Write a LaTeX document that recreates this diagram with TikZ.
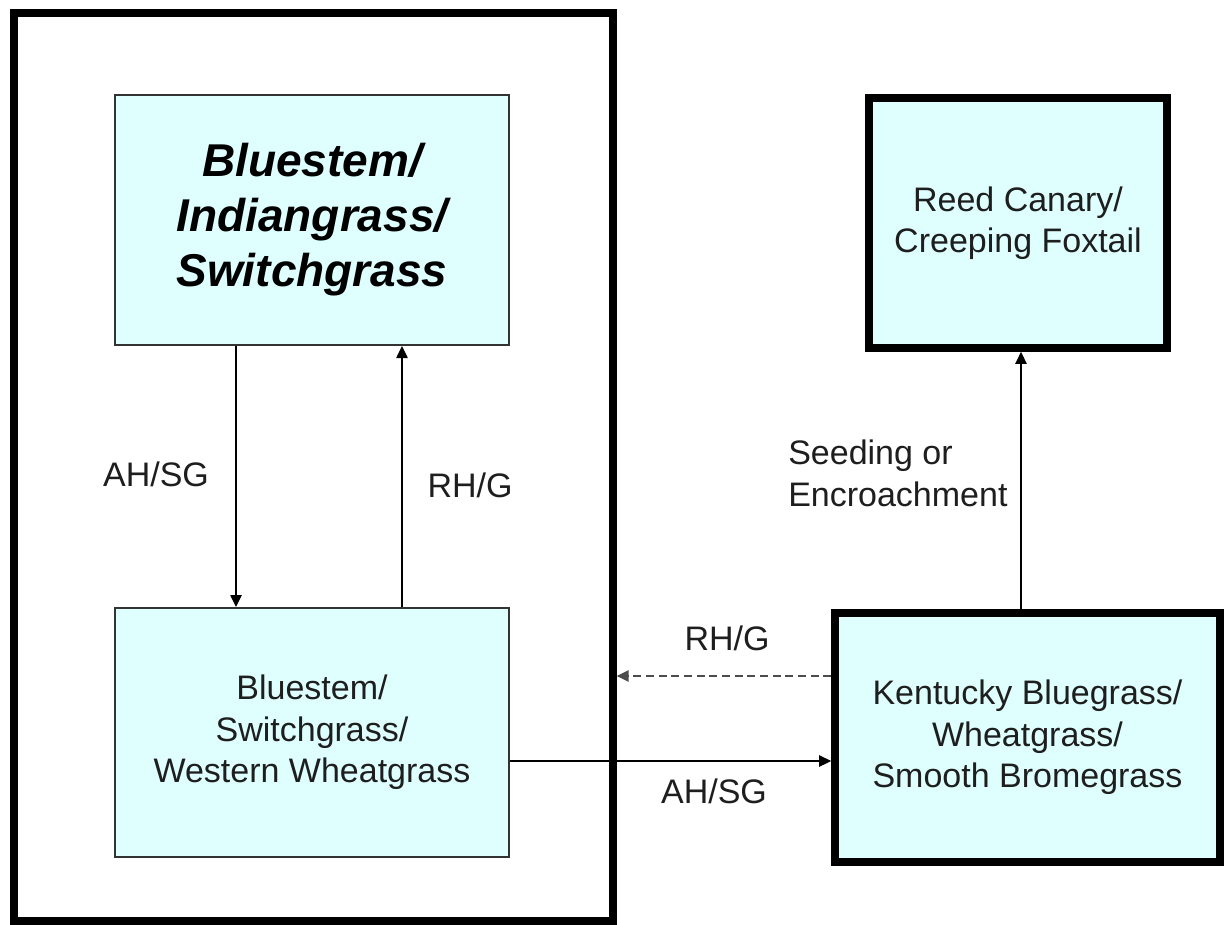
\documentclass[tikz,border=0pt]{standalone}
\usepackage{fontspec}
\setmainfont{Liberation Sans}
\usetikzlibrary{arrows.meta}
\definecolor{boxfill}{HTML}{DFFFFF}
\definecolor{txt}{HTML}{1E1E1E}
\begin{document}
\begin{tikzpicture}[x=0.75pt,y=-0.75pt,
  txtfont/.style={font=\fontsize{25.5}{31}\selectfont, text=txt},
  thinbox/.style={draw=black!80, line width=1.5pt, fill=boxfill, align=center, inner sep=0pt, txtfont},
  thickbox/.style={draw=black, line width=5.75pt, fill=boxfill, align=center, inner sep=0pt, txtfont},
  lbl/.style={inner sep=0pt, txtfont},
  arr/.style={line width=1.1pt, -{Triangle[length=9pt,width=8.5pt]}},
  dasharr/.style={arr, draw=black!70, dash pattern=on 6pt off 3.5pt}
]
\useasboundingbox (0,0) rectangle (1225,925);
\fill[white] (0,0) rectangle (1225,925);

% outer frame
\node[draw=black, line width=5.5pt, minimum width=449.25pt, minimum height=681pt, inner sep=0pt] (outer) at (313.5,467) {};

% boxes
\node[thinbox, minimum width=295.5pt, minimum height=187.5pt,
      font=\fontsize{34.5}{41.25}\selectfont\bfseries\itshape, text=black] (top) at (312,220)
  {Bluestem/\\Indiangrass/\\Switchgrass};
\node[thinbox, minimum width=295.5pt, minimum height=186.75pt] (bl) at (312,732.5)
  {Bluestem/\\Switchgrass/\\Western Wheatgrass};
\node[thickbox, minimum width=223.5pt, minimum height=187.5pt] (rc) at (1018,223)
  {Reed Canary/\\Creeping Foxtail};
\node[thickbox, minimum width=288.75pt, minimum height=186.75pt] (kb) at (1027.5,737.5)
  {Kentucky Bluegrass/\\Wheatgrass/\\Smooth Bromegrass};

% connector positions
\coordinate (xdown) at (236,0);
\coordinate (xup) at (402,0);
\coordinate (xseed) at (1021,0);
\coordinate (ydash) at (0,676);
\coordinate (ysolid) at (0,761);

% connectors
\draw[arr] (top.south -| xdown) -- (bl.north -| xdown);
\draw[arr] (bl.north -| xup) -- (top.south -| xup);
\draw[arr] (kb.north -| xseed) -- (rc.south -| xseed);
\draw[dasharr] (kb.west |- ydash) -- (outer.east |- ydash);
\draw[arr] (bl.east |- ysolid) -- (kb.west |- ysolid);

% labels
\node[lbl, anchor=base] (lah1) at (156,486) {AH/SG};
\node[lbl, anchor=base] (lrh1) at (470,497) {RH/G};
\node[lbl, anchor=base] (lrh2) at (727,650) {RH/G};
\node[lbl, anchor=base] (lah2) at (714,803) {AH/SG};
\node[lbl, anchor=north west, align=left] (lseed) at (788,440) {Seeding or\\Encroachment};
\end{tikzpicture}
\end{document}
